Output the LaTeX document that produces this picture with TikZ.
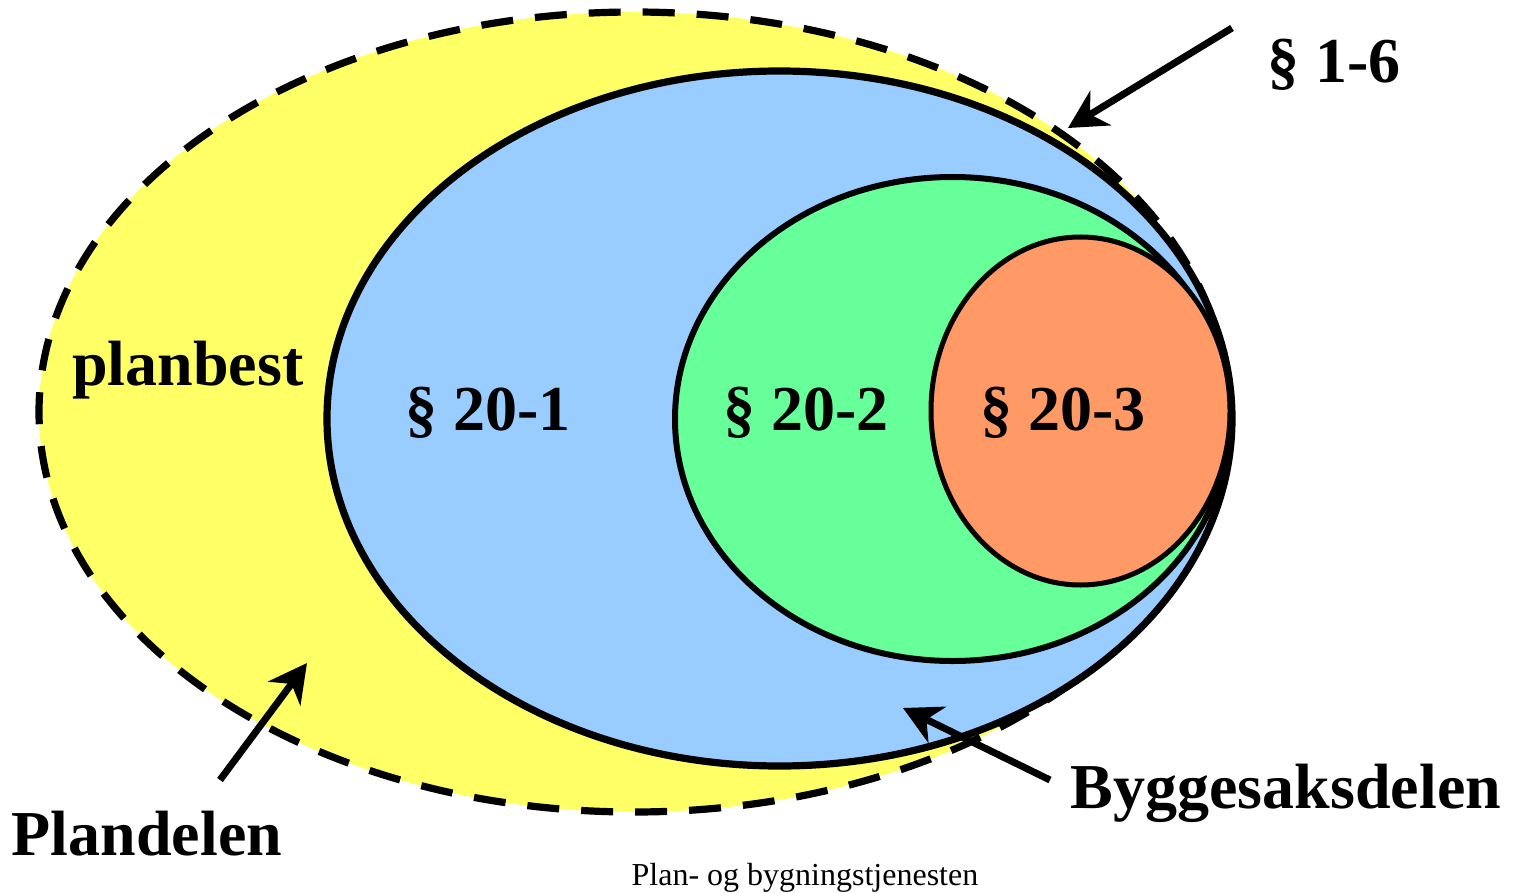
\documentclass[tikz,border=0pt]{standalone}
\usepackage{fontspec}
\setmainfont{Liberation Serif}
\usetikzlibrary{arrows.meta}
\definecolor{planyellow}{HTML}{FFFF66}
\definecolor{byggblue}{HTML}{99CCFF}
\definecolor{paragreen}{HTML}{66FF99}
\definecolor{paraorange}{HTML}{FF9966}

\begin{document}
\begin{tikzpicture}[x=0.5pt, y=-0.5pt,
  bigtext/.style={font=\fontsize{32}{38}\selectfont\bfseries, anchor=base, inner sep=0pt},
  pointer/.style={-{Stealth[length=19pt, width=20pt, inset=6pt]}, line width=3.5pt}]
\useasboundingbox (0,0) rectangle (1514,893);
\fill[white] (0,0) rectangle (1514,893);
% nested areas
\draw[fill=planyellow, line width=3.6pt, dash pattern=on 16pt off 11pt] (634,412) ellipse [x radius=595, y radius=400];
\draw[fill=byggblue, line width=3.6pt] (779.5,418.5) ellipse [x radius=452.5, y radius=347.5];
\draw[fill=paragreen, line width=3pt] (952.5,419) ellipse [x radius=277.5, y radius=242];
\draw[fill=paraorange, line width=2.5pt] (1080.5,411) ellipse [x radius=149.5, y radius=174];
% labels
\node[bigtext] (planbest) at (188,385) {planbest};
\node[bigtext] (p201) at (488,430) {§ 20-1};
\node[bigtext] (p202) at (806,430) {§ 20-2};
\node[bigtext] (p203) at (1063,430) {§ 20-3};
\node[bigtext] (p16) at (1334,83) {§ 1-6};
\node[bigtext] (plandelen) at (147,855) {Plandelen};
\node[bigtext] (byggesak) at (1286,808) {Byggesaksdelen};
\node[font=\fontsize{16}{19}\selectfont, anchor=base, inner sep=0pt] (tjenesten) at (805,885) {Plan- og bygningstjenesten};
% pointers
\coordinate (p16 tail) at (1232,28);
\coordinate (p16 tip) at (1068,128);
\coordinate (plan tail) at (220,780);
\coordinate (plan tip) at (307,663);
\coordinate (bygg tail) at (1050,780);
\coordinate (bygg tip) at (903,708);
\draw[pointer] (p16 tail) -- (p16 tip);
\draw[pointer] (plan tail) -- (plan tip);
\draw[pointer] (bygg tail) -- (bygg tip);
\end{tikzpicture}
\end{document}
